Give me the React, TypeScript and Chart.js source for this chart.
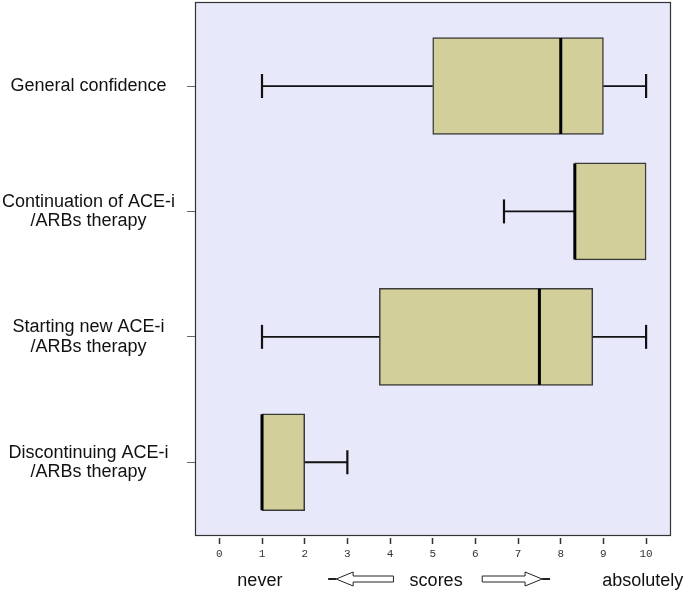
import React, { useEffect, useRef } from "react";
import { Chart, registerables } from "chart.js";
Chart.register(...registerables);

// ---- data ----
const categories: string[][] = [
  ["General confidence"],
  ["Continuation of ACE-i", "/ARBs therapy"],
  ["Starting new ACE-i", "/ARBs therapy"],
  ["Discontinuing ACE-i", "/ARBs therapy"],
];
const positions = [1, 2, 3, 4];
const whiskerMin = [1, 6.67, 1, 1];
const q1 = [5, 8.33, 3.75, 1];
const median = [8, 8.33, 7.5, 1];
const q3 = [9, 10, 8.75, 2];
const whiskerMax = [10, 10, 10, 3];
const xTicks = [0, 1, 2, 3, 4, 5, 6, 7, 8, 9, 10];

const footerLabels = ["never", "scores", "absolutely"];
const footerAt = [0.95, 5.08, 9.92];
const leftArrow = [2.55, 4.08];
const rightArrow = [6.16, 7.75];

const FONT = "'Liberation Sans', Arial, sans-serif";

const boxPlugin = {
  id: "boxExtras",
  beforeDraw(chart: any) {
    const { ctx, chartArea: a } = chart;
    ctx.save();
    ctx.fillStyle = "#E8E8FB";
    ctx.fillRect(a.left, a.top, a.right - a.left, a.bottom - a.top);
    ctx.restore();
  },
  afterDatasetsDraw(chart: any) {
    const { ctx } = chart;
    const xs = chart.scales.x;
    const ys = chart.scales.y;
    ctx.save();
    ctx.strokeStyle = "#111";
    positions.forEach((p, i) => {
      const y = ys.getPixelForValue(p);
      const cap = 12;
      ctx.lineWidth = 1.8;
      if (whiskerMin[i] < q1[i]) {
        const x0 = xs.getPixelForValue(whiskerMin[i]);
        const x1 = xs.getPixelForValue(q1[i]);
        ctx.beginPath();
        ctx.moveTo(x0, y);
        ctx.lineTo(x1, y);
        ctx.stroke();
        ctx.lineWidth = 2.2;
        ctx.beginPath();
        ctx.moveTo(x0, y - cap);
        ctx.lineTo(x0, y + cap);
        ctx.stroke();
      }
      ctx.lineWidth = 1.8;
      if (whiskerMax[i] > q3[i]) {
        const x0 = xs.getPixelForValue(q3[i]);
        const x1 = xs.getPixelForValue(whiskerMax[i]);
        ctx.beginPath();
        ctx.moveTo(x0, y);
        ctx.lineTo(x1, y);
        ctx.stroke();
        ctx.lineWidth = 2.2;
        ctx.beginPath();
        ctx.moveTo(x1, y - cap);
        ctx.lineTo(x1, y + cap);
        ctx.stroke();
      }
      // median
      const half = 48;
      const xm = xs.getPixelForValue(median[i]);
      ctx.lineWidth = 3;
      ctx.strokeStyle = "#000";
      ctx.beginPath();
      ctx.moveTo(xm, y - half);
      ctx.lineTo(xm, y + half);
      ctx.stroke();
      ctx.strokeStyle = "#111";
    });
    ctx.restore();
  },
  afterDraw(chart: any) {
    const { ctx, chartArea: a } = chart;
    const xs = chart.scales.x;
    ctx.save();
    // frame
    ctx.strokeStyle = "#333";
    ctx.lineWidth = 1.2;
    ctx.strokeRect(a.left + 0.5, a.top + 0.5, a.right - a.left, a.bottom - a.top);
    // footer labels
    const fy = 581;
    ctx.fillStyle = "#111";
    ctx.font = `18px ${FONT}`;
    ctx.textAlign = "center";
    ctx.textBaseline = "middle";
    footerLabels.forEach((t, i) => {
      ctx.fillText(t, xs.getPixelForValue(footerAt[i]), fy);
    });
    // arrows
    const ay = 579;
    const drawArrow = (from: number, to: number, dir: number) => {
      const xa = xs.getPixelForValue(from);
      const xb = xs.getPixelForValue(to);
      const tipLen = 8;
      const headLen = 17;
      const sh = 3;
      const hh = 7;
      ctx.fillStyle = "#fff";
      ctx.strokeStyle = "#222";
      ctx.lineWidth = 1;
      ctx.beginPath();
      if (dir < 0) {
        const tip = xa + tipLen;
        const base = tip + headLen;
        ctx.moveTo(tip, ay);
        ctx.lineTo(base, ay - hh);
        ctx.lineTo(base, ay - sh);
        ctx.lineTo(xb, ay - sh);
        ctx.lineTo(xb, ay + sh);
        ctx.lineTo(base, ay + sh);
        ctx.lineTo(base, ay + hh);
        ctx.closePath();
        ctx.fill();
        ctx.stroke();
        ctx.lineWidth = 2;
        ctx.beginPath();
        ctx.moveTo(xa, ay);
        ctx.lineTo(tip, ay);
        ctx.stroke();
      } else {
        const tip = xb - tipLen;
        const base = tip - headLen;
        ctx.moveTo(tip, ay);
        ctx.lineTo(base, ay - hh);
        ctx.lineTo(base, ay - sh);
        ctx.lineTo(xa, ay - sh);
        ctx.lineTo(xa, ay + sh);
        ctx.lineTo(base, ay + sh);
        ctx.lineTo(base, ay + hh);
        ctx.closePath();
        ctx.fill();
        ctx.stroke();
        ctx.lineWidth = 2;
        ctx.beginPath();
        ctx.moveTo(tip, ay);
        ctx.lineTo(xb, ay);
        ctx.stroke();
      }
    };
    drawArrow(leftArrow[0], leftArrow[1], -1);
    drawArrow(rightArrow[0], rightArrow[1], 1);
    ctx.restore();
  },
};

export default function App() {
  const ref = useRef<HTMLCanvasElement | null>(null);
  useEffect(() => {
    if (!ref.current) return;
    const chart = new Chart(ref.current, {
      type: "bar",
      data: {
        datasets: [
          {
            data: positions.map((p, i) => ({ x: [q1[i], q3[i]], y: p })) as any,
            backgroundColor: "#D3CF9A",
            borderColor: "#3a3a3a",
            borderWidth: 1.5,
            borderSkipped: false,
            barThickness: 97,
          },
        ],
      },
      options: {
        indexAxis: "y",
        responsive: false,
        animation: false,
        devicePixelRatio: 1,
        layout: { padding: { top: 2, right: 15, left: 0, bottom: 0 } },
        plugins: { legend: { display: false }, tooltip: { enabled: false } },
        scales: {
          x: {
            type: "linear",
            min: -0.57,
            max: 10.56,
            afterBuildTicks: (s: any) => {
              s.ticks = xTicks.map((v) => ({ value: v }));
            },
            afterFit: (s: any) => {
              s.height = 57;
              s.paddingLeft = 0;
              s.paddingRight = 0;
            },
            border: { display: false },
            grid: {
              drawOnChartArea: false,
              tickLength: 9,
              tickColor: "#333",
              tickWidth: 1.5,
              tickBorderDash: [0, 3, 6, 30],
            },
            ticks: {
              autoSkip: false,
              maxRotation: 0,
              padding: 3,
              color: "#333",
              font: { family: "'Liberation Mono', 'DejaVu Sans Mono', monospace", size: 11 },
            },
          },
          y: {
            type: "linear",
            reverse: true,
            offset: false,
            min: 0.33,
            max: 4.58,
            afterBuildTicks: (s: any) => {
              s.ticks = positions.map((v) => ({ value: v }));
            },
            afterFit: (s: any) => {
              s.width = 195;
              s.paddingTop = 0;
              s.paddingBottom = 0;
            },
            border: { display: false },
            grid: {
              offset: false,
              drawOnChartArea: false,
              tickLength: 8,
              tickColor: "#666",
              tickWidth: 1,
            },
            ticks: {
              crossAlign: "center",
              padding: 12,
              color: "#111",
              font: { family: FONT, size: 18, lineHeight: 1.08 },
              callback: (v: any) => categories[positions.indexOf(v)] ?? "",
            },
          },
        },
      },
      plugins: [boxPlugin],
    } as any);
    return () => chart.destroy();
  }, []);
  return (
    <div style={{ position: "absolute", left: 0, top: 0, width: 685, height: 592, background: "#fff" }}>
      <canvas ref={ref} width={685} height={592} />
    </div>
  );
}
